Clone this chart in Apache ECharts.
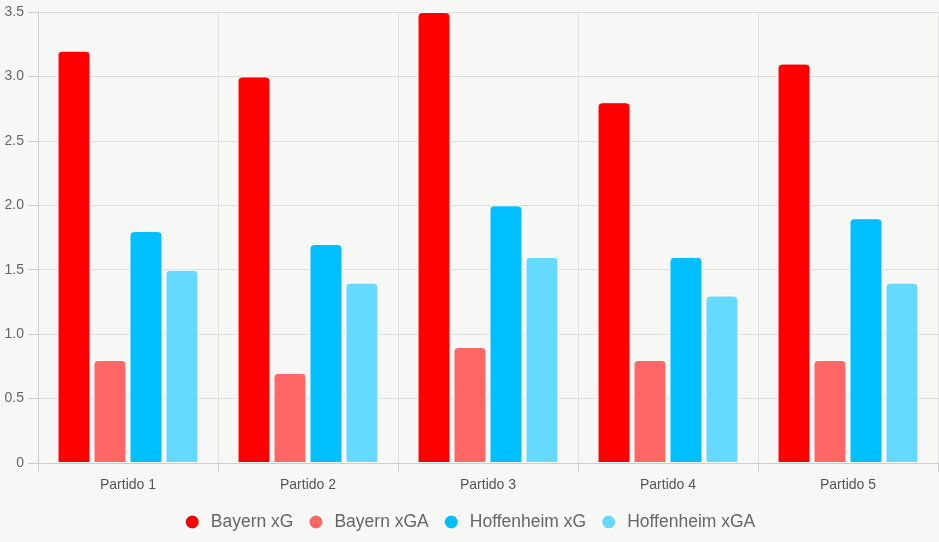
<!DOCTYPE html>
<html><head><meta charset="utf-8">
<script src="https://cdn.jsdelivr.net/npm/echarts@6/dist/echarts.min.js"></script>
<style>html,body{margin:0;padding:0;background:#f7f7f5;}#c{width:939px;height:542px;}</style>
</head><body><div id="c"></div>
<script>
const categories = ['Partido 1','Partido 2','Partido 3','Partido 4','Partido 5'];
const seriesNames = ['Bayern xG','Bayern xGA','Hoffenheim xG','Hoffenheim xGA'];
const bayernXG = [3.2, 3.0, 3.5, 2.8, 3.1];
const bayernXGA = [0.8, 0.7, 0.9, 0.8, 0.8];
const hoffXG = [1.8, 1.7, 2.0, 1.6, 1.9];
const hoffXGA = [1.5, 1.4, 1.6, 1.3, 1.4];
const colors = ['#ff0000','#ff6666','#00bfff','#66d9ff'];
const values = [bayernXG, bayernXGA, hoffXG, hoffXGA];

const chart = echarts.init(document.getElementById('c'), null, {renderer:'canvas'});
chart.setOption({
  backgroundColor: '#f7f7f5',
  animation: false,
  grid: {left: 38, right: 1, top: 12, bottom: 79},
  legend: {
    top: 508, left: 'center', icon: 'circle', itemWidth: 15, itemHeight: 15, itemGap: 14,
    textStyle: {color: '#666', fontSize: 17.5, padding: [0, 0, 0, 6], fontFamily: 'Liberation Sans, Arial, sans-serif'},
    data: seriesNames
  },
  xAxis: {
    type: 'category', data: categories,
    axisLine: {lineStyle: {color: '#ccc'}},
    axisTick: {show: true, length: 9, lineStyle: {color: '#ccc'}},
    axisLabel: {color: '#555', fontSize: 14, margin: 15, fontFamily: 'Liberation Sans, Arial, sans-serif'},
    splitLine: {show: true, lineStyle: {color: '#e2e2e2'}}
  },
  yAxis: {
    type: 'value', min: 0, max: 3.5, interval: 0.5,
    axisLine: {show: true, lineStyle: {color: '#ccc'}},
    axisTick: {show: true, length: 10, lineStyle: {color: '#ccc'}},
    axisLabel: {color: '#666', fontSize: 14, margin: 14, fontFamily: 'Liberation Sans, Arial, sans-serif',
      formatter: v => v === 0 ? '0' : v.toFixed(1)},
    splitLine: {lineStyle: {color: '#dddddd'}}
  },
  series: seriesNames.map((n, i) => ({
    name: n, type: 'bar', data: values[i],
    barWidth: 33, barGap: '9%',
    itemStyle: {color: colors[i], borderColor: '#ffffff', borderWidth: 1, borderRadius: [4,4,0,0]}
  }))
});
</script></body></html>
